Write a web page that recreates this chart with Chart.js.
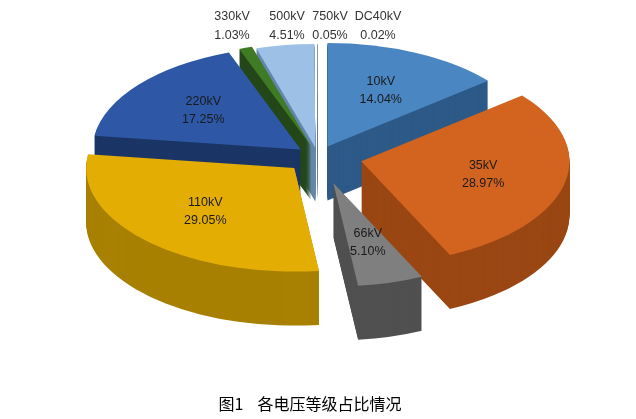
<!DOCTYPE html>
<html>
<head>
<meta charset="utf-8">
<script src="https://cdn.jsdelivr.net/npm/chart.js@4.4.1/dist/chart.umd.min.js"></script>
<style>
  html, body { margin: 0; padding: 0; background: #fff; }
  #wrap { width: 636px; height: 419px; position: relative; }
</style>
</head>
<body>
<div id="wrap"><canvas id="pie"></canvas></div>
<script>
const labels = ['10kV', '35kV', '66kV', '110kV', '220kV', '330kV', '500kV', '750kV', 'DC40kV'];
const shares = [14.04, 28.97, 5.10, 29.05, 17.25, 1.03, 4.51, 0.05, 0.02];
const topColors = ['#4a86c2', '#d3641f', '#7f7f7f', '#e3ad04', '#2e58a6', '#3f7a25', '#9dc0e6', '#7a94b8', '#b7c9e0'];
const sideColors = ['#2d5a87', '#9a4714', '#505050', '#a88002', '#1b3566', '#24471a', '#6486ab', '#4f6585', '#7f90a8'];
const explode = [12, 24, 30, 18, 12, 12, 10, 10, 10];
const outsideLabels = { 5: 232, 6: 287, 7: 330, 8: 378 };

const SX = 1.85, SY = 0.92, DEPTH = 54;

function sector(ctx, el, i, dy) {
  const mid = (el.startAngle + el.endAngle) / 2;
  const x = el.x + Math.cos(mid) * explode[i];
  const y = el.y + Math.sin(mid) * explode[i] + dy;
  ctx.beginPath();
  ctx.moveTo(x, y);
  ctx.arc(x, y, el.outerRadius, el.startAngle, el.endAngle);
  ctx.closePath();
}

const pseudo3d = {
  id: 'pseudo3d',
  beforeDatasetsDraw(chart) {
    const ctx = chart.ctx;
    const arcs = chart.getDatasetMeta(0).data;
    const cx = arcs[0].x, cy = arcs[0].y;
    ctx.save();
    ctx.translate(cx, cy);
    ctx.scale(SX, SY);
    ctx.translate(-cx, -cy);
    for (let k = DEPTH; k > 0; k -= 1) {
      arcs.forEach((el, i) => {
        sector(ctx, el, i, k / SY);
        ctx.fillStyle = sideColors[i];
        ctx.fill();
      });
    }
    arcs.forEach((el, i) => {
      sector(ctx, el, i, 0);
      ctx.fillStyle = topColors[i];
      ctx.fill();
    });
    ctx.restore();
  },
  afterDraw(chart) {
    const ctx = chart.ctx;
    const arcs = chart.getDatasetMeta(0).data;
    ctx.save();
    ctx.font = '12.5px "Liberation Sans", Arial, sans-serif';
    ctx.textAlign = 'center';
    ctx.textBaseline = 'middle';
    arcs.forEach((el, i) => {
      const text2 = shares[i].toFixed(2) + '%';
      if (outsideLabels[i] !== undefined) {
        ctx.fillStyle = '#333';
        ctx.fillText(labels[i], outsideLabels[i], 17);
        ctx.fillText(text2, outsideLabels[i], 36);
        return;
      }
      const mid = (el.startAngle + el.endAngle) / 2;
      const r = el.outerRadius * 0.6 + explode[i];
      const x = el.x + Math.cos(mid) * r * SX;
      const y = el.y + Math.sin(mid) * r * SY;
      ctx.fillStyle = '#1a1a1a';
      ctx.fillText(labels[i], x, y - 9);
      ctx.fillText(text2, x, y + 9);
    });
    ctx.fillStyle = '#000';
    ctx.font = '16px "Noto Sans CJK SC", sans-serif';
    ctx.fillText('图1    各电压等级占比情况', 310, 404);
    ctx.restore();
  }
};

new Chart(document.getElementById('pie'), {
  type: 'pie',
  data: {
    labels: labels,
    datasets: [{
      data: shares,
      backgroundColor: 'rgba(0,0,0,0)',
      borderWidth: 0
    }]
  },
  options: {
    responsive: true,
    maintainAspectRatio: false,
    animation: false,
    layout: { padding: { top: 44, bottom: 150 } },
    plugins: { legend: { display: false }, tooltip: { enabled: false } },
    events: []
  },
  plugins: [pseudo3d]
});
</script>
</body>
</html>
